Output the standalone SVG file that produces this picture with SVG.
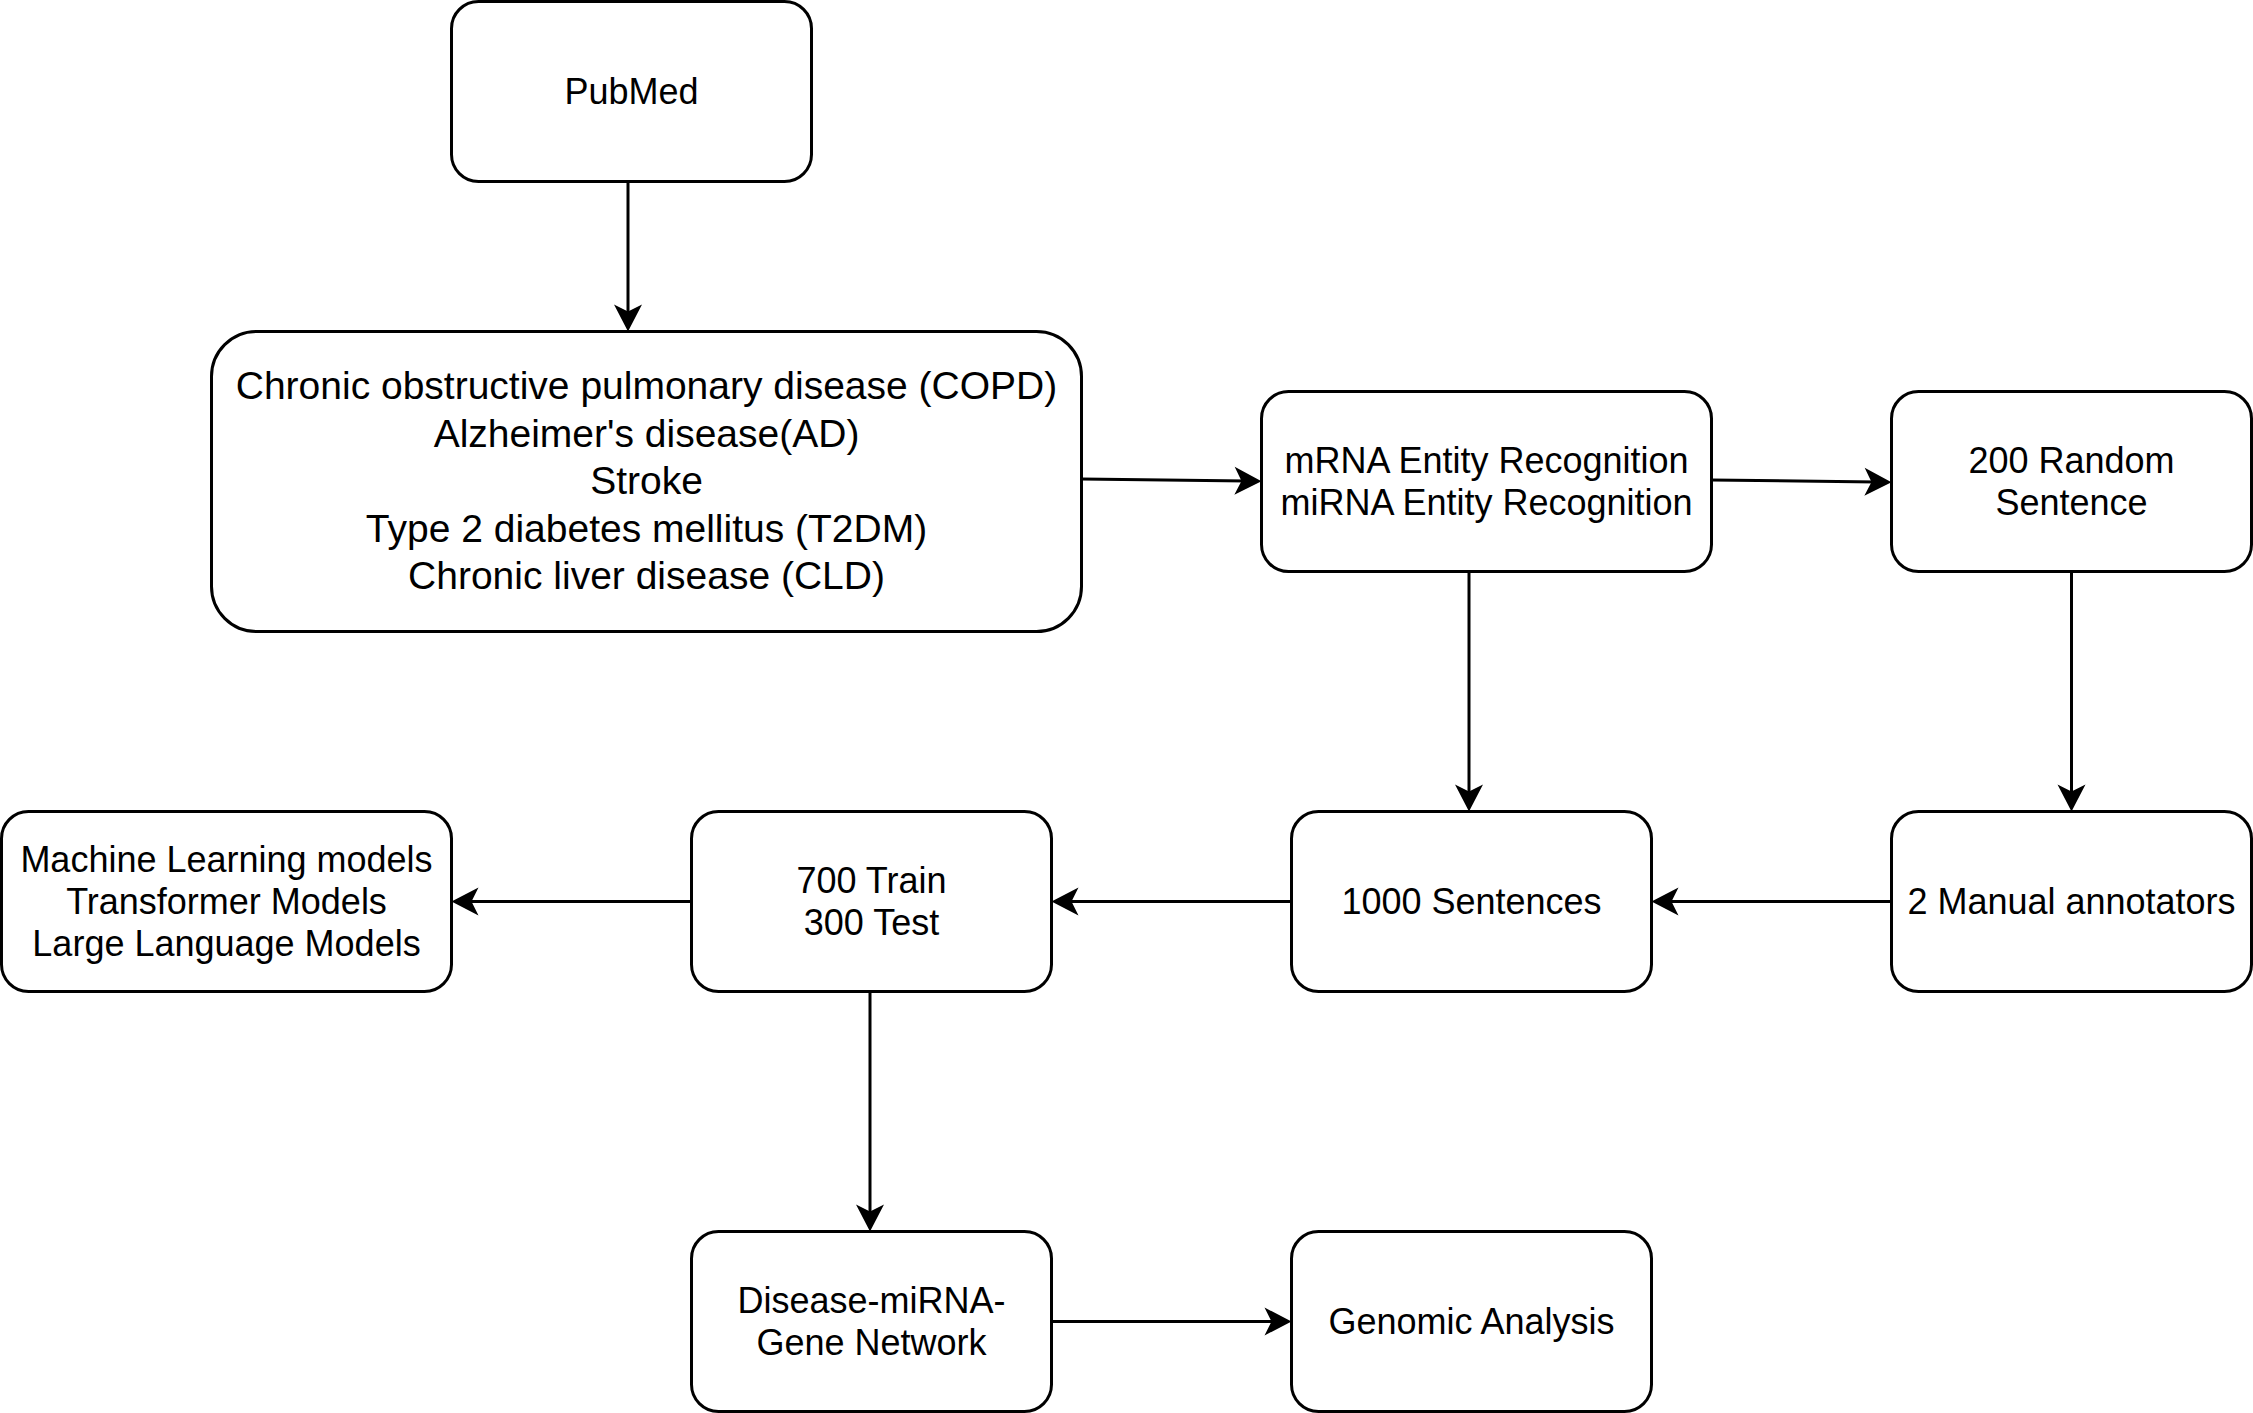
<svg xmlns="http://www.w3.org/2000/svg" width="2253" height="1413" viewBox="0 0 2253 1413">
<style>
.box{fill:#fff;stroke:#000;stroke-width:3}
.t{font-family:"Liberation Sans",Arial,Helvetica,sans-serif;font-size:36px;fill:#000;text-anchor:middle}
.big{font-size:39px}
.c{fill:none;stroke:#000;stroke-width:3}
</style>
<defs>
<marker id="arr" markerUnits="userSpaceOnUse" markerWidth="40" markerHeight="40" refX="12" refY="0" orient="auto" overflow="visible">
<path d="M27,0 L0,-14 L7,0 L0,14 Z" fill="#000"/>
</marker>
</defs>
<rect width="2253" height="1413" fill="#fff"/>
<g id="connectors">
<line class="c" x1="628" y1="181.5" x2="628" y2="316.5" marker-end="url(#arr)"/>
<line class="c" x1="1081.5" y1="479" x2="1246.5" y2="481" marker-end="url(#arr)"/>
<line class="c" x1="1711.5" y1="480" x2="1876.5" y2="482" marker-end="url(#arr)"/>
<line class="c" x1="1469" y1="571.5" x2="1469" y2="796.5" marker-end="url(#arr)"/>
<line class="c" x1="2071.5" y1="571.5" x2="2071.5" y2="796.5" marker-end="url(#arr)"/>
<line class="c" x1="1891.5" y1="901.5" x2="1666.5" y2="901.5" marker-end="url(#arr)"/>
<line class="c" x1="1291.5" y1="901.5" x2="1066.5" y2="901.5" marker-end="url(#arr)"/>
<line class="c" x1="691.5" y1="901.5" x2="466.5" y2="901.5" marker-end="url(#arr)"/>
<line class="c" x1="870" y1="991.5" x2="870" y2="1216.5" marker-end="url(#arr)"/>
<line class="c" x1="1051.5" y1="1321.5" x2="1276.5" y2="1321.5" marker-end="url(#arr)"/>
</g>
<g id="pubmed">
<rect class="box" x="451.5" y="1.5" width="360" height="180" rx="27"/>
<text class="t" x="631.5" y="104">PubMed</text>
</g>
<g id="diseases">
<rect class="box" x="211.5" y="331.5" width="870" height="300" rx="45"/>
<text class="t big" x="646.5" y="399">Chronic obstructive pulmonary disease (COPD)</text>
<text class="t big" x="646.5" y="447">Alzheimer's disease(AD)</text>
<text class="t big" x="646.5" y="494">Stroke</text>
<text class="t big" x="646.5" y="542">Type 2 diabetes mellitus (T2DM)</text>
<text class="t big" x="646.5" y="589">Chronic liver disease (CLD)</text>
</g>
<g id="ner">
<rect class="box" x="1261.5" y="391.5" width="450" height="180" rx="27"/>
<text class="t" x="1486.5" y="473">mRNA Entity Recognition</text>
<text class="t" x="1486.5" y="515">miRNA Entity Recognition</text>
</g>
<g id="random">
<rect class="box" x="1891.5" y="391.5" width="360" height="180" rx="27"/>
<text class="t" x="2071.5" y="473">200 Random</text>
<text class="t" x="2071.5" y="515">Sentence</text>
</g>
<g id="models">
<rect class="box" x="1.5" y="811.5" width="450" height="180" rx="27"/>
<text class="t" x="226.5" y="872">Machine Learning models</text>
<text class="t" x="226.5" y="914">Transformer Models</text>
<text class="t" x="226.5" y="956">Large Language Models</text>
</g>
<g id="split">
<rect class="box" x="691.5" y="811.5" width="360" height="180" rx="27"/>
<text class="t" x="871.5" y="893">700 Train</text>
<text class="t" x="871.5" y="935">300 Test</text>
</g>
<g id="sentences">
<rect class="box" x="1291.5" y="811.5" width="360" height="180" rx="27"/>
<text class="t" x="1471.5" y="914">1000 Sentences</text>
</g>
<g id="annotators">
<rect class="box" x="1891.5" y="811.5" width="360" height="180" rx="27"/>
<text class="t" x="2071.5" y="914">2 Manual annotators</text>
</g>
<g id="network">
<rect class="box" x="691.5" y="1231.5" width="360" height="180" rx="27"/>
<text class="t" x="871.5" y="1313">Disease-miRNA-</text>
<text class="t" x="871.5" y="1355">Gene Network</text>
</g>
<g id="genomic">
<rect class="box" x="1291.5" y="1231.5" width="360" height="180" rx="27"/>
<text class="t" x="1471.5" y="1334">Genomic Analysis</text>
</g>
</svg>
